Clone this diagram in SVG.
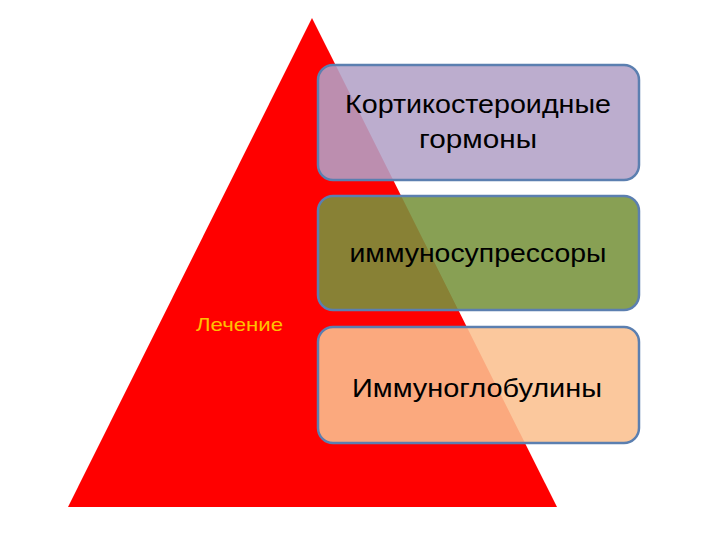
<svg xmlns="http://www.w3.org/2000/svg" width="720" height="540" viewBox="0 0 720 540">
<style>
.box{stroke:#5b7fb0;stroke-width:2.5;}
.t{font-family:"Liberation Sans","Noto Sans",sans-serif;font-size:25px;fill:#000;text-anchor:middle;}
.lbl{font-family:"Liberation Sans","Noto Sans",sans-serif;font-size:19px;fill:#ffc000;}
</style>
<rect width="720" height="540" fill="#ffffff"/>
<g id="pyramid">
<polygon points="312,18 557,507 68,507" fill="#ff0000"/>
<text class="lbl" x="196" y="331" textLength="87" lengthAdjust="spacingAndGlyphs">Лечение</text>
</g>
<g id="node-corticosteroids">
<rect class="box" x="318" y="65" width="321" height="115" rx="15" fill="#b3a2c7" fill-opacity="0.88"/>
<text class="t" x="478" y="113" textLength="266" lengthAdjust="spacingAndGlyphs">Кортикостероидные</text>
<text class="t" x="478" y="148" textLength="118" lengthAdjust="spacingAndGlyphs">гормоны</text>
</g>
<g id="node-immunosuppressors">
<rect class="box" x="318" y="196" width="321" height="114" rx="15" fill="#77933c" fill-opacity="0.88"/>
<text class="t" x="478" y="262" textLength="257" lengthAdjust="spacingAndGlyphs">иммуносупрессоры</text>
</g>
<g id="node-immunoglobulins">
<rect class="box" x="318" y="327" width="321" height="116" rx="15" fill="#fac090" fill-opacity="0.88"/>
<text class="t" x="477" y="397" textLength="250" lengthAdjust="spacingAndGlyphs">Иммуноглобулины</text>
</g>
<g id="connectors"></g>
</svg>
